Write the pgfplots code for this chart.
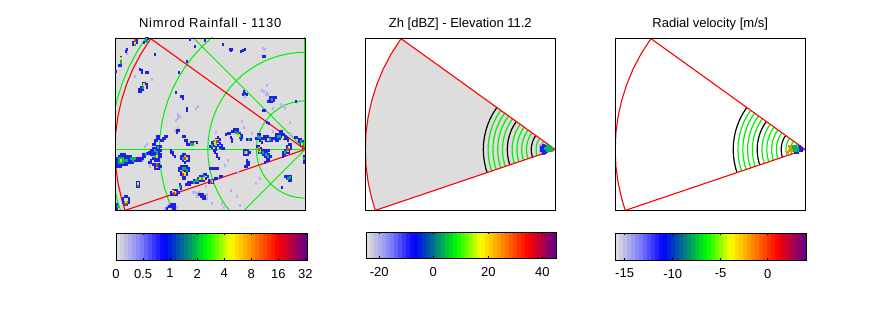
\documentclass[border=0pt]{standalone}
\usepackage{fontspec}
\setmainfont{Liberation Sans}
\usepackage{pgfplots}
\usepackage{pgfplotstable}
\pgfplotsset{compat=1.18}

\definecolor{bggray}{RGB}{221,221,221}
\definecolor{ringgreen}{RGB}{0,240,0}
\definecolor{rainlight}{RGB}{178,178,245}
\definecolor{rainblue}{RGB}{30,30,240}
\definecolor{raingreen}{RGB}{0,185,90}
\definecolor{rainyellow}{RGB}{240,225,0}
\definecolor{rainred}{RGB}{240,50,0}
\definecolor{rainorange}{RGB}{245,140,0}

% unit circle, left half
\pgfplotstableread{
x y
0 1
-0.0872 0.9962
-0.1736 0.9848
-0.2588 0.9659
-0.3420 0.9397
-0.4226 0.9063
-0.5 0.8660
-0.5736 0.8192
-0.6428 0.7660
-0.7071 0.7071
-0.7660 0.6428
-0.8192 0.5736
-0.8660 0.5
-0.9063 0.4226
-0.9397 0.3420
-0.9659 0.2588
-0.9848 0.1736
-0.9962 0.0872
-1 0
-0.9962 -0.0872
-0.9848 -0.1736
-0.9659 -0.2588
-0.9397 -0.3420
-0.9063 -0.4226
-0.8660 -0.5
-0.8192 -0.5736
-0.7660 -0.6428
-0.7071 -0.7071
-0.6428 -0.7660
-0.5736 -0.8192
-0.5 -0.8660
-0.4226 -0.9063
-0.3420 -0.9397
-0.2588 -0.9659
-0.1736 -0.9848
-0.0872 -0.9962
0 -1
}\halfcircle

% arc of the scanned sector, unit radius
\pgfplotstableread{
x y
-0.8121 0.5835
-0.8660 0.5
-0.9063 0.4226
-0.9397 0.3420
-0.9659 0.2588
-0.9848 0.1736
-0.9962 0.0872
-1 0
-0.9962 -0.0872
-0.9848 -0.1736
-0.9659 -0.2588
-0.9472 -0.3206
}\sectorarc

% outline of the sector
\pgfplotstableread{
x y
0 0
-154.3 110.9
-164.5 95
-172.2 80.3
-178.5 65
-183.5 49.2
-187.1 33
-189.3 16.6
-190 0
-189.3 -16.6
-187.1 -33
-183.5 -49.2
-180 -60.9
0 0
}\sectoroutline

% rain cells, image pixels, one table per colour band
\pgfplotstableread[row sep=\\]{
x y\\
155 54\\ 127 53\\ 152 79\\ 135 76\\ 178 114\\ 178 116\\ 180 116\\ 178 118\\ 176 120\\ 196 108\\ 198 106\\ 263 48\\ 265 49\\ 264 91\\ 262 90\\ 267 92\\ 266 94\\ 268 94\\ 267 85\\ 273 108\\ 281 104\\ 284 105\\ 285 108\\ 242 121\\ 290 122\\ 245 96\\
193 192\\ 195 192\\ 197 193\\ 199 192\\ 207 194\\ 207 198\\ 197 196\\ 167 206\\ 169 204\\ 177 207\\ 165 208\\ 231 190\\ 237 196\\ 240 205\\ 222 203\\ 224 207\\ 212 203\\ 256 183\\ 260 178\\ 238 172\\ 273 131\\ 290 133\\ 252 133\\ 244 127\\ 216 132\\ 206 186\\ 147 144\\ 145 146\\ 150 166\\ 175 130\\ 178 128\\ 143 160\\ 225 165\\ 228 160\\
}\rainL

\pgfplotstableread[row sep=\\]{
x y\\
121 154\\ 123 154\\ 125 154\\ 119 156\\ 121 156\\ 123 156\\ 125 156\\ 127 156\\ 129 156\\ 131 156\\
117 158\\ 119 158\\ 121 158\\ 123 158\\ 125 158\\ 127 158\\ 129 158\\ 131 158\\ 133 158\\ 135 158\\ 137 158\\ 139 158\\ 141 158\\ 143 158\\
117 160\\ 119 160\\ 121 160\\ 123 160\\ 125 160\\ 127 160\\ 129 160\\ 131 160\\ 133 160\\ 135 160\\ 137 160\\ 139 160\\ 141 160\\
117 162\\ 119 162\\ 121 162\\ 123 162\\ 125 162\\ 127 162\\ 129 162\\ 131 162\\ 133 162\\ 117 164\\ 119 164\\ 121 164\\ 123 164\\ 125 164\\ 127 164\\ 117 166\\ 119 166\\ 121 166\\
143 154\\ 145 154\\ 147 153\\ 149 153\\ 143 156\\ 145 156\\ 149 162\\ 151 160\\
157 136\\ 159 136\\ 157 138\\ 159 138\\ 155 140\\ 157 140\\ 165 136\\ 167 136\\ 163 138\\ 165 138\\ 161 140\\ 163 140\\ 155 142\\ 153 144\\ 155 144\\ 157 146\\ 159 146\\ 161 146\\ 153 148\\ 155 148\\ 157 148\\ 159 148\\ 151 150\\ 153 150\\ 155 150\\ 157 150\\ 159 150\\ 161 150\\ 149 152\\ 151 152\\ 153 152\\ 155 152\\ 157 152\\ 159 152\\ 151 154\\ 153 154\\ 155 154\\ 157 154\\ 159 154\\ 161 154\\ 155 156\\ 157 156\\ 159 156\\ 161 156\\ 153 158\\ 155 158\\ 157 158\\ 159 158\\ 155 160\\ 157 160\\ 159 160\\ 151 162\\ 153 164\\ 155 164\\ 157 164\\ 159 164\\ 155 166\\ 157 166\\ 159 166\\ 161 166\\ 155 168\\ 157 168\\ 159 168\\
177 130\\ 177 132\\ 179 130\\ 183 136\\ 185 136\\ 185 140\\ 187 142\\ 187 140\\ 187 144\\ 189 144\\ 191 144\\ 193 142\\ 195 142\\ 197 142\\ 191 142\\ 193 144\\ 171 150\\ 171 152\\ 173 152\\ 173 154\\ 175 156\\
183 154\\ 185 154\\ 181 156\\ 183 156\\ 187 156\\ 189 156\\ 181 158\\ 183 158\\ 189 158\\ 183 160\\ 187 160\\ 189 160\\ 185 162\\
181 166\\ 183 166\\ 185 166\\ 187 166\\ 179 168\\ 181 168\\ 183 168\\ 187 168\\ 189 168\\ 179 170\\ 183 170\\ 185 170\\ 189 170\\ 181 172\\ 187 172\\ 181 174\\ 187 174\\ 183 176\\ 185 176\\ 183 178\\ 185 178\\
206 174\\ 204 174\\ 202 176\\ 200 176\\ 208 176\\ 198 178\\ 200 178\\ 202 178\\ 204 178\\ 206 178\\ 194 180\\ 196 180\\ 198 180\\ 200 180\\ 202 180\\ 204 180\\ 188 182\\ 190 182\\ 192 182\\ 194 182\\ 196 182\\ 198 182\\ 186 184\\ 188 184\\ 190 184\\
171 192\\ 173 190\\ 175 190\\ 177 190\\ 179 192\\ 171 194\\ 173 194\\ 175 194\\ 177 194\\ 180 184\\ 181 186\\ 181 188\\
171 204\\ 173 204\\ 175 204\\ 171 206\\ 173 206\\ 175 206\\ 173 208\\ 175 208\\ 167 208\\ 169 206\\
137 182\\ 139 182\\ 137 184\\ 139 184\\ 137 186\\ 139 186\\
125 196\\ 127 196\\ 123 198\\ 129 198\\ 123 200\\ 129 200\\ 123 202\\ 125 202\\ 127 202\\ 129 202\\ 125 204\\ 127 204\\ 117 204\\ 117 208\\ 117 206\\
199 194\\ 201 194\\ 203 194\\ 205 196\\ 201 196\\ 203 196\\ 205 198\\ 203 198\\
218 137\\ 220 139\\ 216 139\\ 216 141\\ 218 141\\ 212 142\\ 214 143\\ 220 143\\ 222 145\\ 218 145\\ 214 145\\ 212 145\\ 210 146\\ 212 147\\ 216 147\\ 220 147\\ 222 148\\ 224 148\\ 216 149\\
234 129\\ 236 129\\ 238 129\\ 232 131\\ 234 131\\ 236 131\\ 238 131\\ 240 133\\ 230 133\\ 228 133\\ 226 134\\ 240 135\\ 242 135\\ 240 137\\ 242 137\\ 241 139\\ 232 139\\ 232 141\\ 231 137\\
247 139\\ 249 139\\ 251 139\\
258 134\\ 260 134\\ 258 136\\ 260 136\\ 256 138\\ 258 138\\ 262 138\\ 264 138\\ 266 138\\ 268 138\\ 270 138\\ 272 138\\ 260 140\\ 266 140\\ 268 140\\ 270 140\\ 272 140\\ 264 136\\ 266 136\\ 268 136\\ 262 142\\
280 131\\ 282 131\\ 276 134\\ 278 134\\ 280 134\\ 282 134\\ 284 134\\ 276 136\\ 278 136\\ 280 136\\ 282 136\\ 284 136\\ 286 136\\ 274 138\\ 276 138\\ 278 138\\ 280 138\\ 284 138\\ 286 138\\ 276 140\\ 278 140\\ 288 138\\ 288 140\\
295 137\\ 297 137\\ 299 139\\ 301 139\\ 303 141\\ 299 141\\ 301 143\\ 303 143\\ 303 145\\ 301 145\\ 303 147\\
215 152\\ 217 154\\ 217 156\\ 219 158\\ 214 150\\ 210 168\\ 212 168\\ 214 168\\ 216 168\\ 218 168\\
244 150\\ 246 150\\ 248 150\\ 244 152\\ 248 152\\ 250 152\\ 244 154\\ 246 154\\ 248 154\\
257 146\\ 259 146\\ 261 148\\ 263 150\\ 265 150\\ 267 150\\ 269 150\\ 259 148\\ 259 150\\ 261 150\\ 261 152\\ 263 152\\ 265 152\\ 267 152\\ 259 152\\ 263 154\\ 265 154\\ 267 154\\ 269 154\\ 265 156\\ 267 156\\ 269 156\\ 267 158\\ 269 158\\ 271 156\\ 267 160\\ 269 160\\ 265 162\\
289 144\\ 291 144\\ 287 146\\ 289 146\\ 291 146\\ 287 148\\ 289 148\\ 291 148\\ 285 150\\ 287 150\\ 289 150\\ 283 152\\ 285 152\\ 287 152\\ 283 154\\ 285 154\\ 283 156\\ 289 152\\
247 160\\ 247 162\\ 247 164\\ 247 166\\ 249 164\\ 249 162\\ 245 166\\
285 176\\ 287 176\\ 289 176\\ 291 176\\ 287 178\\ 289 178\\ 291 178\\ 289 180\\ 291 180\\ 304 156\\ 304 158\\ 304 160\\ 304 162\\ 282 187\\
209 180\\ 211 180\\ 213 180\\ 215 178\\ 217 178\\ 209 182\\ 211 182\\ 213 182\\ 220 176\\ 222 176\\
133 42\\ 135 42\\ 133 44\\ 135 44\\ 135 40\\ 137 40\\ 137 42\\ 146 40\\ 144 42\\ 146 38\\ 148 38\\
121 57\\ 121 59\\ 121 61\\ 121 63\\ 121 65\\ 119 65\\ 127 49\\ 126 51\\ 116 71\\ 140 69\\ 142 70\\ 142 72\\ 146 72\\ 148 72\\
143 83\\ 145 83\\ 143 85\\ 143 87\\ 141 87\\ 139 89\\ 141 89\\ 143 89\\ 141 91\\ 139 91\\ 147 84\\ 147 87\\
155 54\\ 181 96\\ 183 96\\ 183 98\\ 176 92\\ 187 108\\ 187 110\\ 179 72\\ 190 39\\ 195 46\\ 205 40\\ 187 61\\
230 49\\ 232 49\\ 231 50\\ 243 50\\ 245 49\\ 241 51\\ 223 44\\ 263 56\\ 265 56\\
270 97\\ 272 97\\ 270 99\\ 272 99\\ 274 97\\ 276 97\\ 268 101\\ 270 101\\ 272 101\\ 274 100\\ 245 93\\ 247 94\\ 243 94\\ 244 91\\ 263 110\\ 265 110\\ 296 101\\ 267 122\\ 269 123\\
}\rainB

\pgfplotstableread[row sep=\\]{
x y\\
119 158\\ 121 158\\ 123 158\\ 131 158\\ 133 158\\ 135 158\\ 119 160\\ 121 160\\ 123 160\\ 125 160\\ 127 160\\ 133 160\\ 119 162\\ 121 162\\ 123 162\\ 146 154\\
158 147\\ 155 150\\ 157 152\\ 157 154\\ 155 156\\ 157 164\\ 193 144\\ 191 144\\ 183 158\\ 185 156\\ 183 168\\ 185 168\\ 187 170\\ 183 172\\
202 178\\ 204 176\\ 198 180\\ 194 182\\ 196 180\\ 180 186\\ 138 185\\ 125 202\\ 127 202\\ 118 206\\
214 141\\ 216 143\\ 212 145\\ 236 132\\ 238 133\\ 240 136\\ 249 139\\ 260 137\\ 258 136\\ 268 139\\ 270 139\\ 278 136\\ 280 136\\ 301 141\\ 303 143\\
245 152\\ 247 152\\ 259 150\\ 260 152\\ 263 152\\ 266 154\\ 268 156\\ 288 148\\ 287 150\\ 285 152\\ 288 178\\ 290 177\\ 304 158\\ 211 180\\
135 44\\ 146 39\\ 147 41\\ 121 60\\ 121 62\\ 143 85\\ 143 87\\ 272 99\\
}\rainG

\pgfplotstableread[row sep=\\]{
x y\\
121 160\\ 157 156\\ 157 166\\ 195 143\\ 185 157\\ 187 158\\ 183 172\\ 185 173\\ 183 174\\ 185 174\\ 204 178\\ 200 178\\ 173 191\\ 175 192\\ 138 183\\ 126 202\\
216 140\\ 215 143\\ 239 135\\ 268 139\\ 283 137\\ 302 144\\ 246 152\\ 259 148\\ 260 150\\ 288 150\\ 289 147\\ 212 181\\ 135 42\\ 121 58\\ 144 84\\
}\rainY

\pgfplotstableread[row sep=\\]{
x y\\
157 165\\ 185 158\\ 183 174\\ 174 193\\ 126 204\\ 217 141\\ 303 146\\ 304 148\\ 259 149\\ 288 149\\ 211 182\\ 135 40\\
}\rainR

% cells near the radar, second and third panel
\pgfplotstableread[row sep=\\]{
x y\\
540 145\\ 540 148\\ 540 151\\ 542 144\\
}\zhL
\pgfplotstableread[row sep=\\]{
x y\\
541 147\\ 541 150\\ 543 145\\ 543 147\\ 543 149\\ 543 151\\ 543 153\\ 545 146\\ 545 150\\ 545 152\\ 541 149\\
}\zhB
\pgfplotstableread[row sep=\\]{
x y\\
545 148\\ 547 146\\ 547 148\\ 547 150\\ 549 146\\ 549 148\\ 549 150\\ 551 148\\ 551 150\\
}\zhG
\pgfplotstableread[row sep=\\]{
x y\\
797 148\\ 799 148\\ 799 150\\ 797 152\\ 799 146\\ 795 152\\ 801 148\\ 801 150\\
}\velB
\pgfplotstableread[row sep=\\]{
x y\\
793 146\\ 795 146\\ 793 148\\ 795 148\\ 797 147\\ 793 150\\ 795 150\\ 797 150\\
}\velG
\pgfplotstableread[row sep=\\]{
x y\\
789 146\\ 789 150\\ 787 152\\ 790 148\\ 791 150\\
}\velO

\pgfplotsset{
  panel/.style={
    scale only axis, axis on top, clip=true, anchor=south west,
    xtick=\empty, ytick=\empty,
    axis line style={line width=0.9pt},
    title style={font=\fontsize{13}{15}\selectfont, at={(axis description cs:0.5,1)}, anchor=south, yshift=-2.5pt, text height=10pt, text depth=3pt},
  },
  cbar/.style={
    scale only axis, anchor=south west, axis on top,
    xmin=0, xmax=48, ymin=0, ymax=1,
    ytick=\empty, enlargelimits=false,
    colormap={radar}{rgb255(0)=(221,221,221) rgb255(125)=(125,125,250) rgb255(246)=(0,0,255)
      rgb255(480)=(0,255,0) rgb255(605)=(255,255,0) rgb255(857)=(255,0,0) rgb255(1000)=(110,0,130)},
    colormap name=radar,
    point meta min=0, point meta max=47,
    axis line style={line width=0.9pt},
    xtick pos=both, tick align=inside, major tick length=2pt,
    tick style={black, line width=0.6pt},
    xticklabel style={font=\fontsize{13}{15}\selectfont, yshift=-5.5pt},
  },
  rain/.style={only marks, color=#1, mark=square*, mark size=0.95pt, mark options={solid, fill=#1, draw=#1, line width=0pt}},
}

% the 48 bands of the colour bars
\newcommand{\bands}{\addplot[surf, shader=flat corner, mesh/rows=2, mesh/cols=49, point meta=x] coordinates {
(0,0)(1,0)(2,0)(3,0)(4,0)(5,0)(6,0)(7,0)(8,0)(9,0)(10,0)(11,0)(12,0)(13,0)(14,0)(15,0)(16,0)
(17,0)(18,0)(19,0)(20,0)(21,0)(22,0)(23,0)(24,0)(25,0)(26,0)(27,0)(28,0)(29,0)(30,0)(31,0)(32,0)
(33,0)(34,0)(35,0)(36,0)(37,0)(38,0)(39,0)(40,0)(41,0)(42,0)(43,0)(44,0)(45,0)(46,0)(47,0)(48,0)
(0,1)(1,1)(2,1)(3,1)(4,1)(5,1)(6,1)(7,1)(8,1)(9,1)(10,1)(11,1)(12,1)(13,1)(14,1)(15,1)(16,1)
(17,1)(18,1)(19,1)(20,1)(21,1)(22,1)(23,1)(24,1)(25,1)(26,1)(27,1)(28,1)(29,1)(30,1)(31,1)(32,1)
(33,1)(34,1)(35,1)(36,1)(37,1)(38,1)(39,1)(40,1)(41,1)(42,1)(43,1)(44,1)(45,1)(46,1)(47,1)(48,1)
};}

\begin{document}
\begin{tikzpicture}[x=1pt, y=1pt]
\path[use as bounding box] (0,0) rectangle (889,333);

% Nimrod panel
\begin{axis}[panel, at={(115.5pt,123pt)}, width=189.5pt, height=172pt,
  xmin=-189.5, xmax=0, ymin=-60.5, ymax=111.5,
  axis background/.style={fill=bggray},
  title={\addfontfeature{LetterSpace=6}Nimrod Rainfall - 1130}]
\addplot[rain=rainlight] table[x expr=\thisrow{x}-305, y expr=149-\thisrow{y}] {\rainL};
\addplot[rain=rainblue] table[x expr=\thisrow{x}-305, y expr=149-\thisrow{y}] {\rainB};
\addplot[rain=raingreen] table[x expr=\thisrow{x}-305, y expr=149-\thisrow{y}] {\rainG};
\addplot[rain=rainyellow] table[x expr=\thisrow{x}-305, y expr=149-\thisrow{y}] {\rainY};
\addplot[rain=rainred] table[x expr=\thisrow{x}-305, y expr=149-\thisrow{y}] {\rainR};
\pgfplotsinvokeforeach{48.6,97.2,145.6,194.4}{
  \addplot[ringgreen, line width=1pt] table[x expr=\thisrow{x}*#1, y expr=\thisrow{y}*#1] {\halfcircle};
}
\addplot[ringgreen, line width=1pt] coordinates {(-190,0) (0,0)};
\addplot[ringgreen, line width=0.8pt] coordinates {(-112,112) (0,0) (-61,-61)};
\addplot[ringgreen, line width=1.6pt] coordinates {(-0.2,0) (-0.2,112)};
\addplot[red, line width=1.1pt] table {\sectoroutline};
\end{axis}

% Zh panel
\begin{axis}[panel, at={(365.3pt,123pt)}, width=190pt, height=172pt,
  xmin=-190, xmax=0, ymin=-60.5, ymax=111.5,
  title={Zh [dBZ] - Elevation 11.2}]
\addplot[fill=bggray, draw=none] table {\sectoroutline};
\addplot[rain=rainlight] table[x expr=\thisrow{x}-555, y expr=149-\thisrow{y}] {\zhL};
\addplot[rain=rainblue] table[x expr=\thisrow{x}-555, y expr=149-\thisrow{y}] {\zhB};
\addplot[rain=raingreen] table[x expr=\thisrow{x}-555, y expr=149-\thisrow{y}] {\zhG};
\pgfplotsinvokeforeach{9.6,14.4,19.2,28.8,33.6,38.4,43.2,52.8,57.6,62.4,67.2}{
  \addplot[ringgreen, line width=1.2pt] table[x expr=\thisrow{x}*#1, y expr=\thisrow{y}*#1] {\sectorarc};
}
\pgfplotsinvokeforeach{4.8,24,48,72}{
  \addplot[black, line width=1.2pt] table[x expr=\thisrow{x}*#1, y expr=\thisrow{y}*#1] {\sectorarc};
}
\addplot[red, line width=1.1pt] table {\sectoroutline};
\end{axis}

% velocity panel
\begin{axis}[panel, at={(615.2pt,123pt)}, width=190pt, height=172pt,
  xmin=-190, xmax=0, ymin=-60.5, ymax=111.5,
  title={Radial velocity [m/s]}]
\addplot[rain=rainblue] table[x expr=\thisrow{x}-805, y expr=149-\thisrow{y}] {\velB};
\addplot[rain=raingreen] table[x expr=\thisrow{x}-805, y expr=149-\thisrow{y}] {\velG};
\addplot[rain=rainorange] table[x expr=\thisrow{x}-805, y expr=149-\thisrow{y}] {\velO};
\pgfplotsinvokeforeach{9.6,14.4,19.2,28.8,33.6,38.4,43.2,52.8,57.6,62.4,67.2}{
  \addplot[ringgreen, line width=1.2pt] table[x expr=\thisrow{x}*#1, y expr=\thisrow{y}*#1] {\sectorarc};
}
\pgfplotsinvokeforeach{4.8,24,48,72}{
  \addplot[black, line width=1.2pt] table[x expr=\thisrow{x}*#1, y expr=\thisrow{y}*#1] {\sectorarc};
}
\addplot[red, line width=1.1pt] table {\sectoroutline};
\end{axis}

% colour bars
\begin{axis}[cbar, at={(116pt,73pt)}, width=191.3pt, height=27pt,
  xtick={0,6.79,13.57,20.36,27.15,33.93,40.72,47.51},
  xticklabels={0,0.5,1,2,4,8,16,32}]
\bands
\end{axis}
\begin{axis}[cbar, at={(366.3pt,75pt)}, width=190.3pt, height=26pt,
  xtick={3.28,16.9,30.77,44.38},
  xticklabels={-20,0,20,40}]
\bands
\end{axis}
\begin{axis}[cbar, at={(615.3pt,73pt)}, width=191.3pt, height=27pt,
  xtick={2.34,14.39,26.43,38.22},
  xticklabels={-15,-10,-5,0}]
\bands
\end{axis}
\end{tikzpicture}
\end{document}
